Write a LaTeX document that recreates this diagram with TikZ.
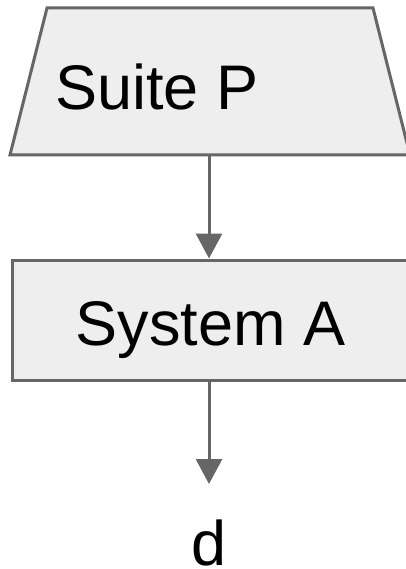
\documentclass[tikz,border=0pt]{standalone}
\usepackage{fontspec}
\setmainfont{Liberation Sans}
\usetikzlibrary{arrows.meta}
\definecolor{edgegray}{HTML}{666666}
\definecolor{boxfill}{HTML}{EEEEEE}
\tikzset{
  shapeline/.style={draw=edgegray, fill=boxfill, line width=3pt, line join=miter},
  flow/.style={draw=edgegray, line width=3pt, -{Triangle[width=26pt,length=25pt]}},
  bigtext/.style={font=\fontsize{63}{75}\selectfont, text=black, inner sep=0pt}
}
\begin{document}
\begin{tikzpicture}[x=1pt,y=-1pt]
\useasboundingbox (0,0) rectangle (406,569);
\clip (0,0) rectangle (406,569);
% input trapezium
\draw[shapeline] (47,8) -- (373,8) -- (410,155) -- (10,155) -- cycle;
\node[bigtext, anchor=base west] (suite) at (55,110) {Suite P};
\coordinate (suitebot) at (209,155);
% system box
\node[shapeline, minimum width=396pt, minimum height=120pt, inner sep=0pt] (sys) at (210,320) {};
\node[bigtext, anchor=base] (systext) at (210.5,345) {System A};
% output label
\node[bigtext, anchor=base] (out) at (209.5,565) {d};
\coordinate (outtop) at (209,484);
% connectors
\draw[flow] (suitebot) -- (sys.north -| suitebot);
\draw[flow] (sys.south -| suitebot) -- (outtop);
\end{tikzpicture}
\end{document}
